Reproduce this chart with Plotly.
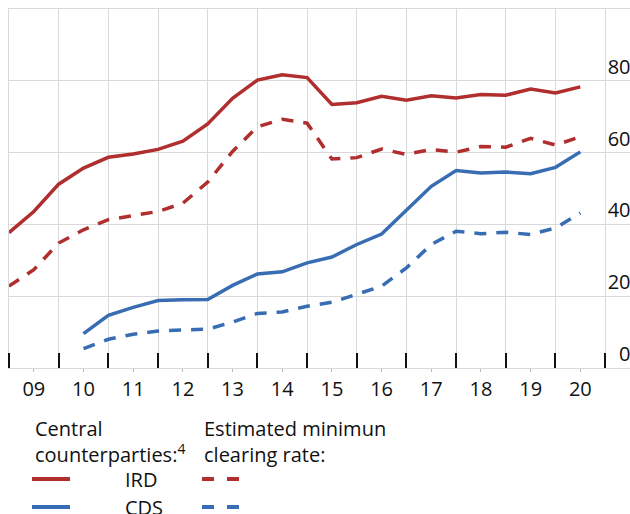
import plotly.graph_objects as go

# Semi-annual observation dates (end-Dec / end-Jun)
periods = ["2008-12", "2009-06", "2009-12", "2010-06", "2010-12", "2011-06",
           "2011-12", "2012-06", "2012-12", "2013-06", "2013-12", "2014-06",
           "2014-12", "2015-06", "2015-12", "2016-06", "2016-12", "2017-06",
           "2017-12", "2018-06", "2018-12", "2019-06", "2019-12", "2020-06"]

ird_ccp = [37.7, 43.6, 51.2, 55.7, 58.7, 59.6, 60.9, 63.2, 68.0, 75.1, 80.2, 81.7,
           80.9, 73.4, 73.9, 75.7, 74.6, 75.8, 75.2, 76.2, 76.0, 77.7, 76.6, 78.3]
ird_min = [22.8, 27.4, 34.8, 38.5, 41.3, 42.4, 43.6, 45.9, 51.8, 60.3, 67.2, 69.3,
           68.2, 58.2, 58.6, 61.0, 59.5, 60.9, 60.1, 61.7, 61.5, 64.0, 62.1, 64.4]
cds_ccp = [None, None, None, 9.6, 14.7, 16.9, 18.8, 19.0, 19.1, 23.0, 26.2, 26.8,
           29.3, 30.9, 34.4, 37.3, 44.1, 50.6, 55.0, 54.3, 54.6, 54.1, 55.9, 60.2]
cds_min = [None, None, None, 5.4, 8.0, 9.4, 10.3, 10.6, 10.8, 12.8, 15.2, 15.6,
           17.2, 18.3, 20.5, 22.8, 27.9, 34.4, 38.1, 37.4, 37.8, 37.2, 39.0, 43.2]

year_ticks = [2009.5, 2010.5, 2011.5, 2012.5, 2013.5, 2014.5,
              2015.5, 2016.5, 2017.5, 2018.5, 2019.5, 2020.5]
year_labels = ["09", "10", "11", "12", "13", "14", "15", "16", "17", "18", "19", "20"]
y_ticks = [0, 20, 40, 60, 80]

RED = "#b02e2e"
BLUE = "#386db3"
GRID = "#d9d9d9"
FONT = "Open Sans"

def to_year(p):
    y, m = p.split("-")
    return int(y) + int(m) / 12.0

x = [to_year(p) for p in periods]

fig = go.Figure()
series = [
    (ird_ccp, RED, "solid", "IRD CCP"),
    (ird_min, RED, "12px,10px", "IRD min"),
    (cds_ccp, BLUE, "solid", "CDS CCP"),
    (cds_min, BLUE, "12px,10px", "CDS min"),
]
for vals, col, dash, name in series:
    fig.add_trace(go.Scatter(x=x, y=vals, mode="lines", name=name,
                             line=dict(color=col, width=3.5, dash=dash),
                             showlegend=False, hoverinfo="skip"))

W0, H0 = 9, 368  # plot origin in px
PW, PH = 621, 359

def px(xp):
    return (xp - W0) / PW

def py(yp):
    return (H0 - yp) / PH

# Legend texts
fig.add_annotation(x=px(33), y=py(413), xref="paper", yref="paper",
                   xanchor="left", yanchor="top", align="left", showarrow=False,
                   text="Central<br>counterparties:<sup>4</sup>",
                   font=dict(family=FONT, size=20, color="#111"))
fig.add_annotation(x=px(202), y=py(413), xref="paper", yref="paper",
                   xanchor="left", yanchor="top", align="left", showarrow=False,
                   text="Estimated minimun<br>clearing rate:",
                   font=dict(family=FONT, size=20, color="#111"))
fig.add_annotation(x=px(123), y=py(479), xref="paper", yref="paper",
                   xanchor="left", yanchor="middle", showarrow=False, text="IRD",
                   font=dict(family=FONT, size=20, color="#111"))
fig.add_annotation(x=px(123), y=py(507), xref="paper", yref="paper",
                   xanchor="left", yanchor="middle", showarrow=False, text="CDS",
                   font=dict(family=FONT, size=20, color="#111"))

for yy, col in [(479, RED), (507, BLUE)]:
    fig.add_shape(type="line", xref="paper", yref="paper",
                  x0=px(32), x1=px(70), y0=py(yy), y1=py(yy),
                  line=dict(color=col, width=4))
    fig.add_shape(type="line", xref="paper", yref="paper",
                  x0=px(202), x1=px(240), y0=py(yy), y1=py(yy),
                  line=dict(color=col, width=4, dash="12px,13px"))

fig.update_layout(
    width=630, height=514,
    margin=dict(l=9, r=0, t=9, b=146),
    paper_bgcolor="white", plot_bgcolor="white",
    font=dict(family=FONT, size=20, color="#111"),
    xaxis=dict(
        range=[2009, 2021.5], tickmode="array", tickvals=year_ticks,
        ticktext=year_labels, showgrid=False, zeroline=False,
        ticks="outside", ticklen=3, tickcolor="#bbbbbb", tickwidth=1,
        showline=True, linecolor=GRID, linewidth=1, mirror=True,
        minor=dict(tickmode="linear", tick0=2009, dtick=1, showgrid=True,
                   gridcolor=GRID, gridwidth=1, ticks="inside", ticklen=15,
                   tickcolor="#111", tickwidth=1.5),
        tickfont=dict(family=FONT, size=20, color="#111"),
    ),
    yaxis=dict(
        range=[0, 100], side="right", tickmode="array", tickvals=y_ticks,
        showgrid=True, gridcolor=GRID, gridwidth=1, zeroline=False,
        ticks="", ticklabelposition="inside top",
        showline=True, linecolor=GRID, linewidth=1, mirror=True,
        tickfont=dict(family=FONT, size=20, color="#111"),
    ),
)

fig.write_html("out.html", config={"displayModeBar": False},
               post_script="document.body.style.margin='0';document.body.style.overflow='hidden';")
